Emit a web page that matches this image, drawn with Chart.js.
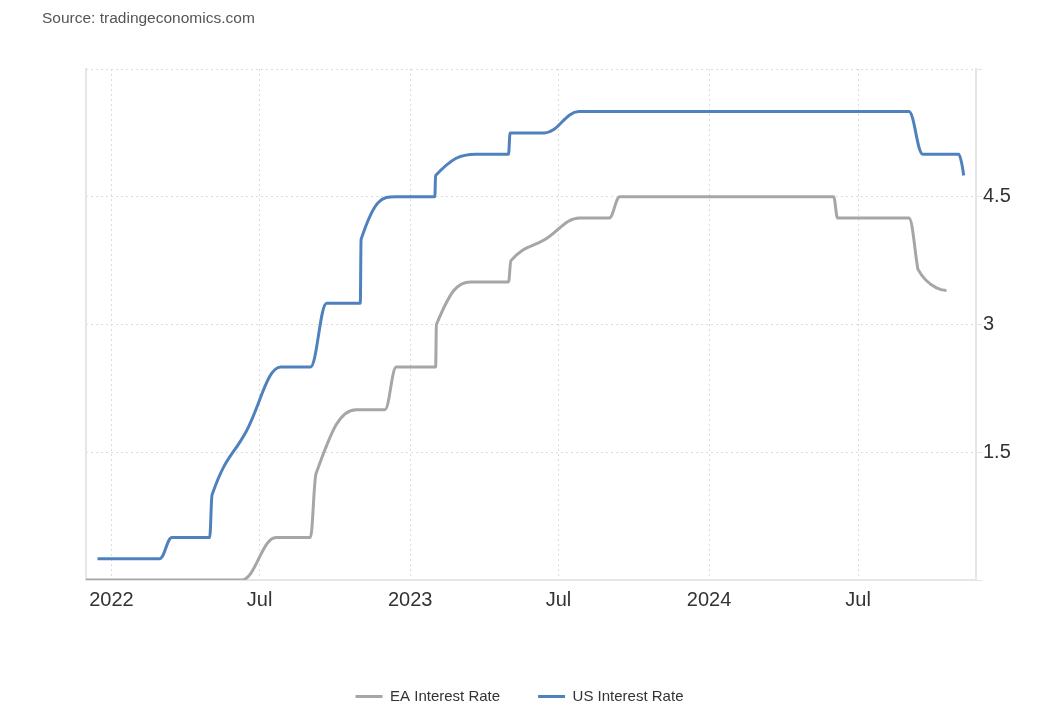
<!DOCTYPE html>
<html>
<head>
<meta charset="utf-8">
<script src="https://cdn.jsdelivr.net/npm/chart.js@4.4.1/dist/chart.umd.min.js"></script>
<style>
  html, body { margin: 0; padding: 0; background: #fff; }
  #wrap { position: relative; width: 1039px; height: 710px; }
  #source { position: absolute; left: 42px; top: 9px; font: 15.5px 'Liberation Sans', Arial, sans-serif; color: #555; }
  canvas { position: absolute; left: 0; top: 0; }
</style>
</head>
<body>
<div id="wrap">
  <canvas id="c" width="1039" height="710"></canvas>
  <div id="source">Source: tradingeconomics.com</div>
</div>
<script>
// ---- data ----
const seriesNames = ['EA Interest Rate', 'US Interest Rate'];

const eaDates = ['2021-12-01','2022-06-09','2022-07-21','2022-09-01','2022-09-08','2022-10-27','2022-12-01','2022-12-15',
                 '2023-02-01','2023-02-02','2023-03-16','2023-05-01','2023-05-04','2023-06-15','2023-07-27','2023-09-01',
                 '2023-09-14','2024-06-01','2024-06-06','2024-09-01','2024-09-12','2024-10-17'];
const eaRates = [0, 0, 0.5, 0.5, 1.25, 2.0, 2.0, 2.5,
                 2.5, 3.0, 3.5, 3.5, 3.75, 4.0, 4.25, 4.25,
                 4.5, 4.5, 4.25, 4.25, 3.65, 3.40];

const usDates = ['2021-12-15','2022-03-01','2022-03-16','2022-05-01','2022-05-04','2022-06-15','2022-07-27','2022-09-01',
                 '2022-09-21','2022-11-01','2022-11-02','2022-12-14','2023-01-31','2023-02-01','2023-03-22','2023-05-01',
                 '2023-05-03','2023-06-14','2023-07-26','2024-09-01','2024-09-18','2024-11-01','2024-11-07'];
const usRates = [0.25, 0.25, 0.5, 0.5, 1.0, 1.75, 2.5, 2.5,
                 3.25, 3.25, 4.0, 4.5, 4.5, 4.75, 5.0, 5.0,
                 5.25, 5.25, 5.5, 5.5, 5.0, 5.0, 4.75];

const xTickDates  = ['2022-01-01','2022-07-01','2023-01-01','2023-07-01','2024-01-01','2024-07-01'];
const xTickLabels = ['2022','Jul','2023','Jul','2024','Jul'];
const xRange = ['2021-12-01','2024-11-22'];
const yTickLabels = ['', '1.5', '3', '4.5', ''];

// ---- helpers ----
const toDay = s => (Date.UTC(+s.slice(0,4), +s.slice(5,7) - 1, +s.slice(8,10)) - Date.UTC(2022, 0, 1)) / 86400000;
const pts = (d, v) => d.map((s, i) => ({ x: toDay(s), y: v[i] }));
const xTickValues = xTickDates.map(toDay);

// Spline smoothing in the style of the source chart (control points through each point,
// clamped so no false extremes appear between neighbouring points).
const splinePlugin = {
  id: 'splineSmooth',
  beforeDatasetDraw(chart, args) {
    const meta = args.meta;
    const line = meta.dataset;
    if (!line) return;
    try { line.updateControlPoints(chart.chartArea, 'x'); } catch (e) {}
    const P = meta.data;
    const s = 1.5, d = s + 1;
    for (let i = 0; i < P.length; i++) {
      const p = P[i], a = P[i - 1], b = P[i + 1];
      if (!a || !b) { p.cp1x = p.cp2x = p.x; p.cp1y = p.cp2y = p.y; continue; }
      let lx = (s * p.x + a.x) / d, ly = (s * p.y + a.y) / d;
      let rx = (s * p.x + b.x) / d, ry = (s * p.y + b.y) / d;
      let corr = 0;
      if (rx !== lx) corr = ((ry - ly) * (rx - p.x)) / (rx - lx) + p.y - ry;
      ly += corr; ry += corr;
      if (ly > a.y && ly > p.y) { ly = Math.max(a.y, p.y); ry = 2 * p.y - ly; }
      else if (ly < a.y && ly < p.y) { ly = Math.min(a.y, p.y); ry = 2 * p.y - ly; }
      if (ry > b.y && ry > p.y) { ry = Math.max(b.y, p.y); ly = 2 * p.y - ry; }
      else if (ry < b.y && ry < p.y) { ry = Math.min(b.y, p.y); ly = 2 * p.y - ry; }
      p.cp1x = lx; p.cp1y = ly; p.cp2x = rx; p.cp2y = ry;
    }
    line._pointsUpdated = true;
  }
};

Chart.defaults.font.family = "'Liberation Sans', Arial, sans-serif";
Chart.defaults.color = '#333';

const GRID = '#dcdcdc';
const AXIS = '#e6e6e6';

new Chart(document.getElementById('c'), {
  type: 'line',
  plugins: [splinePlugin],
  data: {
    datasets: [
      { label: seriesNames[0], data: pts(eaDates, eaRates), borderColor: '#a6a6a6', backgroundColor: '#a6a6a6',
        borderWidth: 3, pointRadius: 0, cubicInterpolationMode: 'monotone', yAxisID: 'y', fill: false },
      { label: seriesNames[1], data: pts(usDates, usRates), borderColor: '#4f81bd', backgroundColor: '#4f81bd',
        borderWidth: 3, pointRadius: 0, cubicInterpolationMode: 'monotone', yAxisID: 'y', fill: false }
    ]
  },
  options: {
    responsive: false,
    animation: false,
    devicePixelRatio: 1,
    layout: { padding: { top: 69, left: 0, right: 0, bottom: -4 } },
    plugins: {
      tooltip: { enabled: false },
      legend: {
        position: 'bottom',
        labels: {
          boxWidth: 27,
          boxHeight: 3,
          padding: 38,
          color: '#333',
          font: { size: 15 },
          generateLabels(chart) {
            const items = Chart.defaults.plugins.legend.labels.generateLabels(chart);
            items.forEach(it => { it.lineWidth = 0; it.fillStyle = it.strokeStyle; });
            return items;
          }
        }
      }
    },
    scales: {
      x: {
        type: 'linear',
        min: toDay(xRange[0]),
        max: toDay(xRange[1]),
        afterBuildTicks(scale) { scale.ticks = xTickValues.map(v => ({ value: v })); },
        afterFit(scale) { scale.height = 71; },
        ticks: {
          autoSkip: false, maxRotation: 0, padding: 8,
          font: { size: 20 }, color: '#333',
          callback(value) { const i = xTickValues.indexOf(value); return i >= 0 ? xTickLabels[i] : ''; }
        },
        grid: { color: GRID, lineWidth: 1, drawTicks: false },
        border: { display: true, color: AXIS, width: 2, dash: [2, 3] }
      },
      y: {
        position: 'right',
        min: 0, max: 6,
        afterFit(scale) { scale.width = 63; },
        ticks: {
          stepSize: 1.5, padding: 1,
          font: { size: 20 }, color: '#333',
          callback(value, index) { return yTickLabels[index] !== undefined ? yTickLabels[index] : ''; }
        },
        grid: { color: GRID, lineWidth: 1, drawTicks: true, tickLength: 6, tickColor: AXIS },
        border: { display: true, color: AXIS, width: 2, dash: [2, 3] }
      },
      yL: {
        position: 'left',
        display: true,
        afterFit(scale) { scale.width = 86; },
        ticks: { display: false },
        grid: { drawOnChartArea: false, drawTicks: false },
        border: { display: true, color: AXIS, width: 2 }
      }
    }
  }
});
</script>
</body>
</html>
